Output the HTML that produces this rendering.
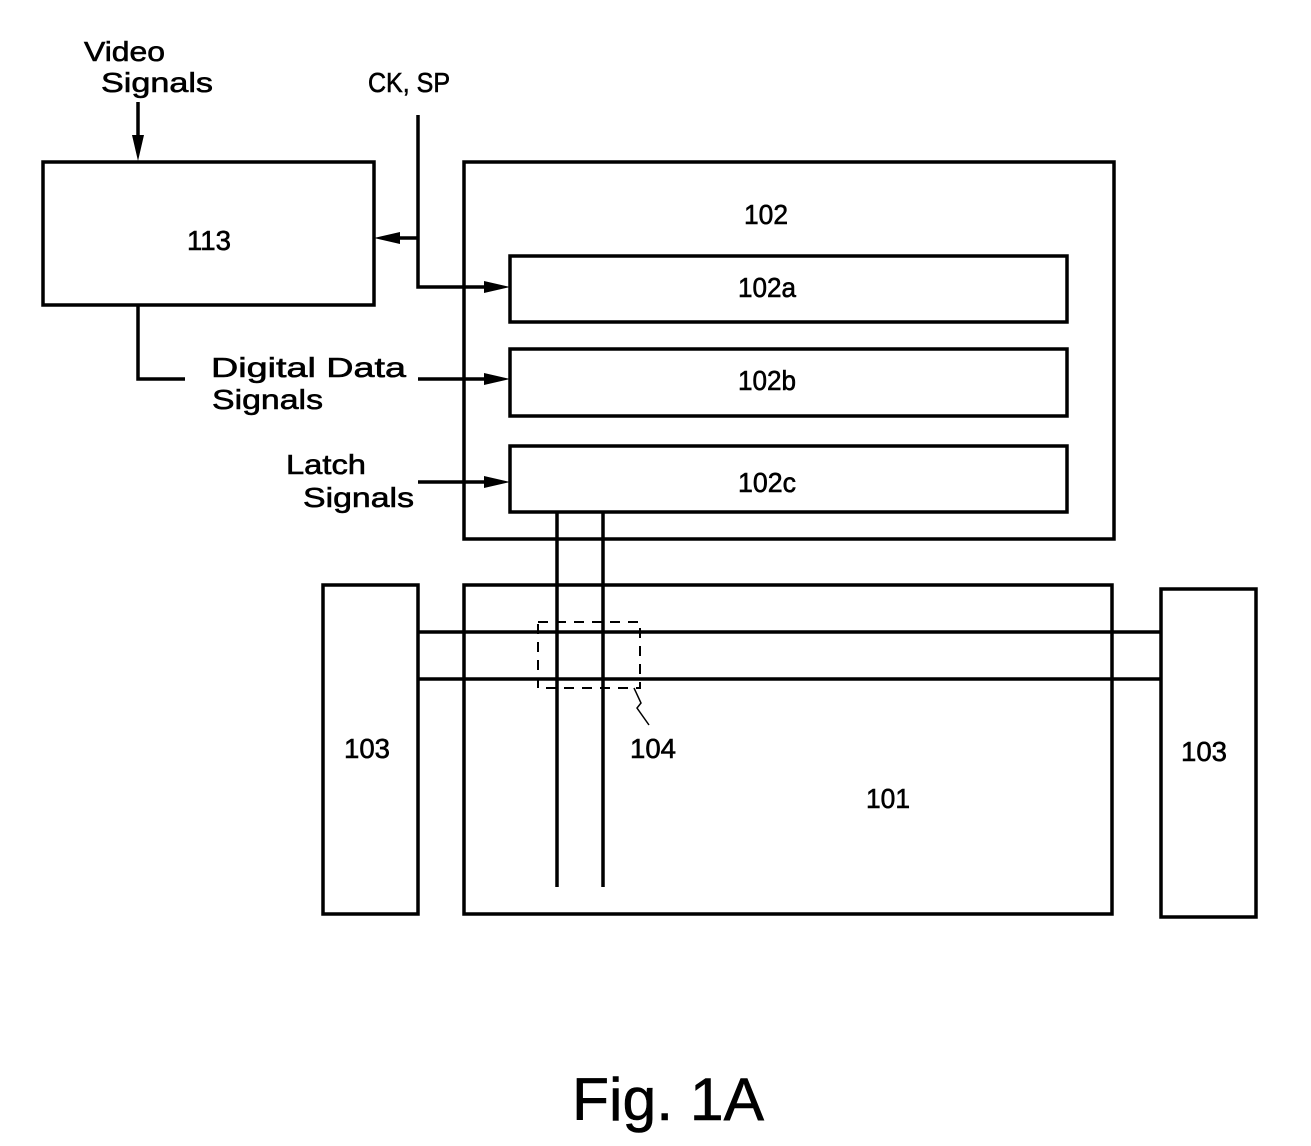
<!DOCTYPE html>
<html><head><meta charset="utf-8"><style>
html,body{margin:0;padding:0;background:#fff;}
svg{display:block;}
text{font-family:"Liberation Sans",sans-serif;fill:#000;stroke:#000;stroke-width:0.6;}
</style></head><body>
<svg width="1311" height="1146" viewBox="0 0 1311 1146" xmlns="http://www.w3.org/2000/svg">
<g fill="none" stroke="#000" stroke-width="3.5">
<rect x="43" y="162" width="331" height="143"/>
<rect x="464" y="162" width="650" height="377"/>
<rect x="510" y="256" width="557" height="66"/>
<rect x="510" y="349" width="557" height="67"/>
<rect x="510" y="446" width="557" height="66"/>
<rect x="464" y="585" width="648" height="329"/>
<rect x="323" y="585" width="95" height="329"/>
<rect x="1161" y="589" width="95" height="328"/>
<line x1="557" y1="512" x2="557" y2="887"/>
<line x1="603" y1="512" x2="603" y2="887"/>
<line x1="418" y1="632" x2="1161" y2="632"/>
<line x1="418" y1="679" x2="1161" y2="679"/>
<polyline points="418,115 418,287 490,287"/>
<line x1="418" y1="238" x2="392" y2="238"/>
<line x1="138" y1="102" x2="138" y2="142"/>
<polyline points="138,305 138,379 185,379"/>
<line x1="418" y1="379" x2="490" y2="379"/>
<line x1="418" y1="482" x2="490" y2="482"/>
</g>
<g fill="#000">
<polygon points="510,287 484,281 484,293"/>
<polygon points="510,379 484,373 484,385"/>
<polygon points="510,482 484,476 484,488"/>
<polygon points="374,238 400,232 400,244"/>
<polygon points="138,161 132,135 144,135"/>
</g>
<g fill="none" stroke="#000" stroke-width="2" stroke-dasharray="10,8">
<rect x="538" y="622" width="102" height="66"/>
</g>
<path d="M634,688 L641,703 L637,708 L649,725" fill="none" stroke="#000" stroke-width="1.5"/>
<g font-size="28">
<text x="84" y="61" textLength="81" lengthAdjust="spacingAndGlyphs">Video</text>
<text x="101" y="92" textLength="112" lengthAdjust="spacingAndGlyphs">Signals</text>
<text x="368" y="92" textLength="82" lengthAdjust="spacingAndGlyphs">CK, SP</text>
<text x="211" y="377" textLength="195" lengthAdjust="spacingAndGlyphs">Digital Data</text>
<text x="212" y="409" textLength="111" lengthAdjust="spacingAndGlyphs">Signals</text>
<text x="286" y="474" textLength="80" lengthAdjust="spacingAndGlyphs">Latch</text>
<text x="303" y="507" textLength="111" lengthAdjust="spacingAndGlyphs">Signals</text>
<text x="187" y="250" textLength="44" lengthAdjust="spacingAndGlyphs">113</text>
<text x="744" y="224" textLength="44" lengthAdjust="spacingAndGlyphs">102</text>
<text x="738" y="297" textLength="58" lengthAdjust="spacingAndGlyphs">102a</text>
<text x="738" y="390" textLength="58" lengthAdjust="spacingAndGlyphs">102b</text>
<text x="738" y="492" textLength="58" lengthAdjust="spacingAndGlyphs">102c</text>
<text x="344" y="758" textLength="46" lengthAdjust="spacingAndGlyphs">103</text>
<text x="1181" y="761" textLength="46" lengthAdjust="spacingAndGlyphs">103</text>
<text x="630" y="758" textLength="46" lengthAdjust="spacingAndGlyphs">104</text>
<text x="866" y="808" textLength="44" lengthAdjust="spacingAndGlyphs">101</text>
</g>
<text x="572" y="1120" font-size="60" textLength="192" lengthAdjust="spacingAndGlyphs">Fig. 1A</text>
</svg>
</body></html>
